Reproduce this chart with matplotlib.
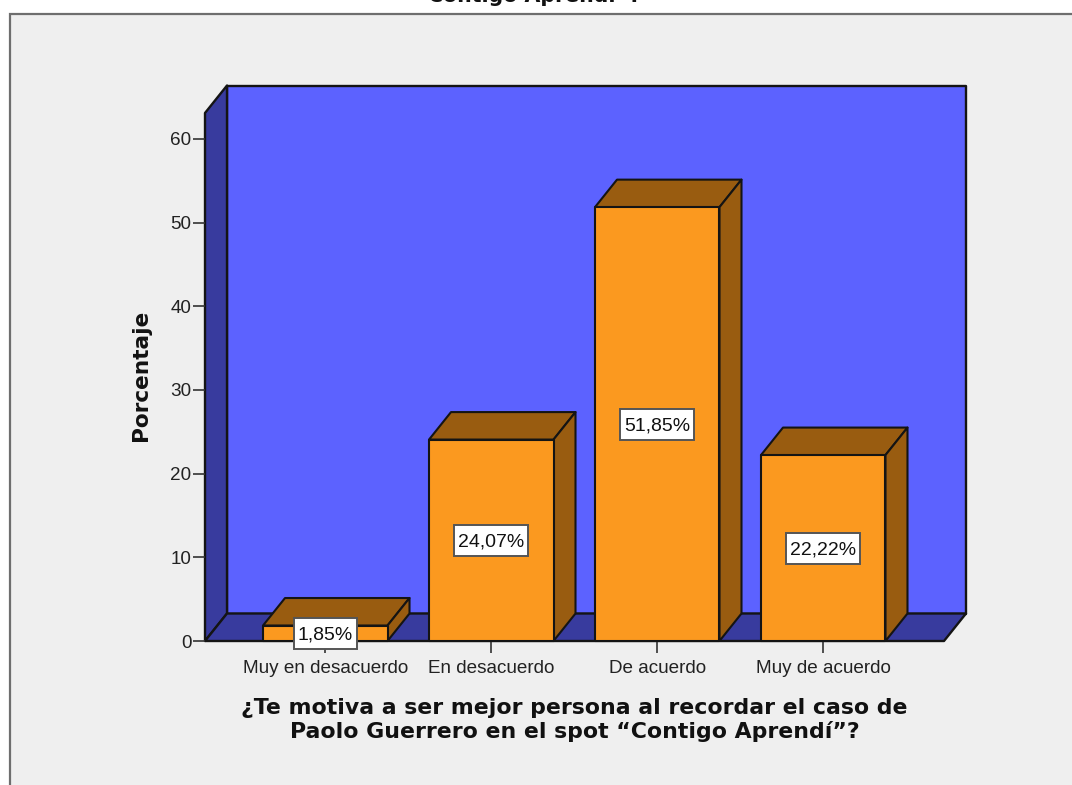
import matplotlib
matplotlib.use("Agg")
import matplotlib.pyplot as plt
from matplotlib.patches import Polygon, Rectangle

categories = ["Muy en desacuerdo", "En desacuerdo", "De acuerdo", "Muy de acuerdo"]
percentages = [1.85, 24.07, 51.85, 22.22]
value_labels = ["1,85%", "24,07%", "51,85%", "22,22%"]
y_ticks = [0, 10, 20, 30, 40, 50, 60]
title_text = "Contigo Aprendí”?"
x_title = "¿Te motiva a ser mejor persona al recordar el caso de\nPaolo Guerrero en el spot “Contigo Aprendí”?"
y_title = "Porcentaje"

W, H = 1072, 785
FRONT_FACE = "#FB991F"
SIDE_FACE = "#995C10"
WALL_BACK = "#5C62FF"
WALL_SIDE = "#383B9E"
PANEL = "#EFEFEF"
EDGE = "#141414"

plt.rcParams["font.family"] = ["Liberation Sans", "DejaVu Sans"]

fig = plt.figure(figsize=(W / 100, H / 100), dpi=100, facecolor="white")

# Grey chart panel, running off the right and bottom edges
fig.add_artist(Rectangle((9.5 / W, -0.02), 1.02, 1.02 - 13.5 / H,
                         transform=fig.transFigure, facecolor=PANEL,
                         edgecolor="#6E6E6E", linewidth=1.6, zorder=-5))

# Axes cover the front edge of the floor
left_px, right_px, base_px, top_px = 205, 944, 641, 113
ax = fig.add_axes([left_px / W, 1 - base_px / H,
                   (right_px - left_px) / W, (base_px - top_px) / H])
ax.set_xlim(-0.7245, 3.7275)
ax.set_ylim(0, 63.1)
ax.patch.set_visible(False)
for spine in ax.spines.values():
    spine.set_visible(False)

# Depth of the pseudo-3D effect in data units
px_per_x = (right_px - left_px) / (3.7275 + 0.7245)
px_per_y = (base_px - top_px) / 63.1
dx = 22 / px_per_x
dy = 27.5 / px_per_y
x0, x1 = ax.get_xlim()
y0, y1 = ax.get_ylim()


def poly(points, face, z, lw=1.7):
    ax.add_patch(Polygon(points, closed=True, facecolor=face, edgecolor=EDGE,
                         linewidth=lw, joinstyle="round", clip_on=False, zorder=z))


# Back wall, side wall and floor
poly([(x0 + dx, y0 + dy), (x1 + dx, y0 + dy), (x1 + dx, y1 + dy), (x0 + dx, y1 + dy)], WALL_BACK, 1)
poly([(x0, y0), (x0 + dx, y0 + dy), (x0 + dx, y1 + dy), (x0, y1)], WALL_SIDE, 1.1)
poly([(x0, y0), (x1, y0), (x1 + dx, y0 + dy), (x0 + dx, y0 + dy)], WALL_SIDE, 1.2)

# Bars: top and side faces first, then the front, then a boxed value label
half = 0.375
renderer = fig.canvas.get_renderer()
for i, (value, label) in enumerate(zip(percentages, value_labels)):
    a, b = i - half, i + half
    poly([(a, value), (b, value), (b + dx, value + dy), (a + dx, value + dy)], SIDE_FACE, 2 + i * 0.01, 1.5)
    poly([(b, 0), (b + dx, dy), (b + dx, value + dy), (b, value)], SIDE_FACE, 2 + i * 0.01, 1.5)
    poly([(a, 0), (b, 0), (b, value), (a, value)], FRONT_FACE, 2.5 + i * 0.01, 1.5)
    text = ax.text(i, value / 2, label, ha="center", va="center_baseline",
                   fontsize=14, color="#111111", zorder=6)
    box_w = (text.get_window_extent(renderer).width + 8) / px_per_x
    box_h = 31 / px_per_y
    ax.add_patch(Rectangle((i - box_w / 2, value / 2 - box_h / 2), box_w, box_h,
                           facecolor="white", edgecolor="#555555", linewidth=1.4,
                           clip_on=False, zorder=5))

ax.set_xticks(range(len(categories)), categories)
ax.set_yticks(y_ticks)
ax.tick_params(axis="x", length=8.6, width=1.2, color="#333333", labelsize=13.6, labelcolor="#222222", pad=5)
ax.tick_params(axis="y", length=8.6, width=1.2, color="#333333", labelsize=13.6, labelcolor="#222222", pad=1.2)

# Axis titles and the chart title clipped by the top of the image
fig.text(574.5 / W, 1 - 720 / H, x_title, ha="center", va="center", fontsize=15.8, fontweight="bold",
         family="DejaVu Sans", color="#111111", linespacing=1.18)
fig.text(141 / W, 1 - 375 / H, y_title, rotation=90, ha="center", va="center",
         fontsize=15.6, fontweight="bold", family="DejaVu Sans", color="#111111")
fig.text(535 / W, 1 - 1.5 / H, title_text, ha="center", va="baseline", fontsize=14.8,
         fontweight="bold", family="DejaVu Sans", color="#111111")

fig.savefig("out.png", dpi=100, facecolor="white")
